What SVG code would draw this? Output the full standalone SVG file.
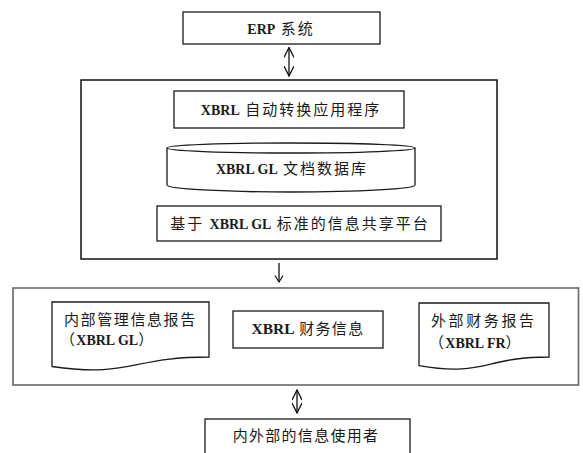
<svg xmlns="http://www.w3.org/2000/svg" width="583" height="453" viewBox="0 0 583 453">
<style>
.bg{fill:#fff}
.box{fill:#fff;stroke:#1a1a1a;stroke-width:1.3}
.frame{fill:none;stroke:#111;stroke-width:1.5}
.frame2{fill:none;stroke:#666;stroke-width:1.6}
.t{font-family:"Noto Sans CJK SC","Noto Sans",sans-serif;font-size:15px;fill:#1a1a1a;letter-spacing:1.3px}
.w{letter-spacing:2px}
.lat{font-family:"Liberation Serif","Times New Roman",serif;font-weight:bold;font-size:14px;letter-spacing:0px}
.conn{fill:none;stroke:#111;stroke-width:1.3}
</style>
<defs>
<marker id="v" viewBox="0 0 12 10" refX="11" refY="5" markerWidth="12" markerHeight="10" markerUnits="userSpaceOnUse" orient="auto-start-reverse">
<path d="M1,0 L11,5 L1,10" fill="none" stroke="#111" stroke-width="1.3"/>
</marker>
<marker id="vs" viewBox="0 0 10 10" refX="9" refY="5" markerWidth="8" markerHeight="10" markerUnits="userSpaceOnUse" orient="auto-start-reverse">
<path d="M1,0 L9,5 L1,10" fill="none" stroke="#111" stroke-width="1.4"/>
</marker>
</defs>
<rect class="bg" x="0" y="0" width="583" height="453"/>

<g id="erp">
<rect class="box" x="183" y="12" width="197" height="32"/>
<text class="t w" x="281" y="33.5" text-anchor="middle"><tspan class="lat">ERP</tspan> 系统</text>
</g>

<g id="platform-group">
<rect class="frame" x="81" y="80" width="416" height="179"/>
</g>

<g id="xbrl-app">
<rect class="box" x="174" y="91" width="230" height="37"/>
<text class="t w" x="291" y="115" text-anchor="middle"><tspan class="lat">XBRL</tspan> 自动转换应用程序</text>
</g>

<g id="xbrl-gl-db">
<path class="box" d="M167,148 L167,185 A124,7 0 0 0 415,185 L415,148"/>
<ellipse class="box" cx="291" cy="148" rx="124" ry="5"/>
<text class="t w" x="292" y="174" text-anchor="middle"><tspan class="lat">XBRL GL</tspan> 文档数据库</text>
</g>

<g id="sharing-platform">
<rect class="box" x="157" y="206" width="284" height="35"/>
<text class="t w" x="300" y="229" text-anchor="middle">基于 <tspan class="lat">XBRL GL</tspan> 标准的信息共享平台</text>
</g>

<g id="report-group">
<rect class="frame2" x="13" y="288" width="565.5" height="97"/>
</g>

<g id="internal-report">
<path class="box" d="M52,302 H209 V357 C130.5,357 130.5,378 52,366.5 Z"/>
<text class="t" x="64" y="325" style="letter-spacing:1.6px">内部管理信息报告</text>
<text class="t" x="60" y="344.5">（<tspan class="lat">XBRL GL</tspan>）</text>
</g>

<g id="xbrl-financial">
<rect class="box" x="233" y="311" width="150" height="37"/>
<text class="t" x="308" y="334" text-anchor="middle"><tspan class="lat" style="font-size:15.5px">XBRL</tspan>  财务信息</text>
</g>

<g id="external-report">
<path class="box" d="M419,303 H549 V357 C484,357 484,377 419,365.6 Z"/>
<text class="t" x="431" y="326" style="letter-spacing:2.6px">外部财务报告</text>
<text class="t" x="429" y="347.5">（<tspan class="lat">XBRL FR</tspan>）</text>
</g>

<g id="users">
<rect class="box" x="205" y="419" width="205" height="40"/>
<text class="t" x="306" y="440.5" text-anchor="middle">内外部的信息使用者</text>
</g>

<g id="connectors">
<line class="conn" x1="289" y1="47.5" x2="289" y2="76" marker-start="url(#v)" marker-end="url(#v)"/>
<line class="conn" x1="279" y1="263" x2="279" y2="282" marker-end="url(#vs)"/>
<line class="conn" x1="297" y1="390" x2="297" y2="413" marker-start="url(#v)" marker-end="url(#v)"/>
</g>
</svg>
